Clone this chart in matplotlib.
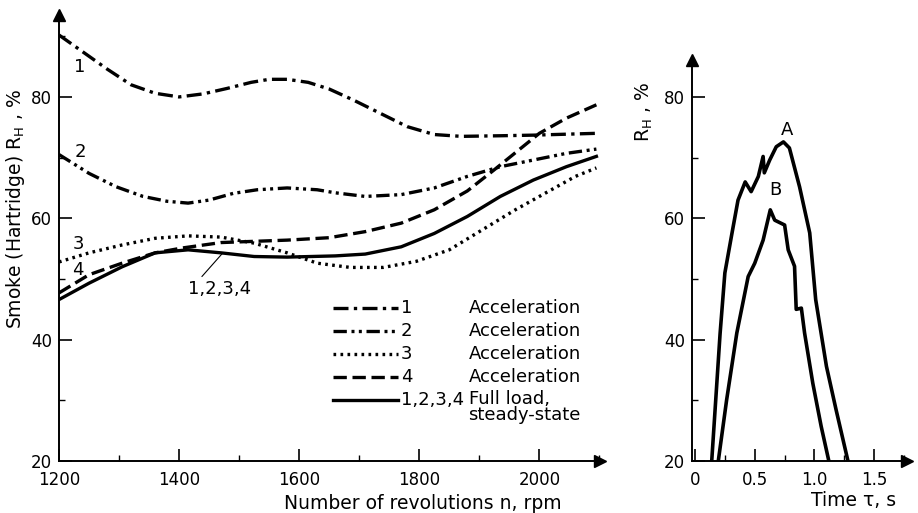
#Smoke emission during acceleration vs steady-state, plus smoke-time traces

#import modules
import matplotlib
matplotlib.use("Agg")
import matplotlib.pyplot as plt
from matplotlib.ticker import MultipleLocator

#Data
#Left chart: smoke R_H (%) vs engine speed (rpm)
rpm1 = [1200, 1240, 1280, 1320, 1360, 1400, 1440, 1480, 1520, 1550, 1580, 1615, 1650, 1690, 1735, 1780, 1825, 1870, 1935, 1990, 2095]
smoke1 = [90.2, 87.4, 84.6, 82.0, 80.6, 80.0, 80.5, 81.4, 82.4, 82.9, 82.9, 82.4, 81.3, 79.5, 77.3, 75.1, 73.8, 73.5, 73.6, 73.7, 74.0]

rpm2 = [1200, 1250, 1295, 1340, 1380, 1415, 1450, 1490, 1530, 1580, 1630, 1660, 1710, 1770, 1825, 1880, 1935, 1990, 2045, 2095]
smoke2 = [70.5, 67.4, 65.2, 63.6, 62.8, 62.5, 63.0, 64.1, 64.7, 65.0, 64.7, 64.2, 63.6, 63.9, 65.0, 66.9, 68.5, 69.6, 70.7, 71.4]

rpm3 = [1200, 1250, 1305, 1360, 1415, 1470, 1525, 1580, 1630, 1685, 1740, 1795, 1850, 1905, 1960, 2020, 2060, 2095]
smoke3 = [52.8, 54.3, 55.6, 56.7, 57.1, 56.9, 55.9, 54.3, 52.6, 51.9, 51.9, 52.9, 54.8, 58.1, 61.4, 64.7, 66.9, 68.3]

rpm4 = [1200, 1250, 1305, 1360, 1405, 1470, 1525, 1580, 1650, 1710, 1770, 1825, 1880, 1925, 1960, 2000, 2045, 2095]
smoke4 = [47.7, 50.7, 52.6, 54.3, 55.1, 56.0, 56.2, 56.4, 56.8, 57.8, 59.2, 61.4, 64.5, 68.0, 70.8, 74.0, 76.5, 78.7]

rpm_ss = [1200, 1250, 1305, 1360, 1415, 1470, 1525, 1580, 1660, 1710, 1770, 1825, 1880, 1935, 1990, 2045, 2095]
smoke_ss = [46.6, 49.3, 52.0, 54.3, 54.8, 54.3, 53.7, 53.6, 53.8, 54.1, 55.3, 57.5, 60.3, 63.6, 66.3, 68.5, 70.2]

legend_nums = ["1", "2", "3", "4", "1,2,3,4"]
legend_desc = ["Acceleration", "Acceleration", "Acceleration", "Acceleration", "Full load,\nsteady-state"]

#Right chart: smoke R_H (%) vs time (s)
timeA = [0.14, 0.21, 0.25, 0.31, 0.36, 0.42, 0.47, 0.53, 0.57, 0.58, 0.625, 0.68, 0.74, 0.79, 0.875, 0.96, 1.01, 1.10, 1.18, 1.28]
smokeA = [20, 41, 51, 57.6, 63, 66, 64.4, 66.9, 70.2, 67.5, 69.6, 71.8, 72.6, 71.6, 65.2, 57.6, 46.6, 35.6, 28.5, 20]

timeB = [0.195, 0.265, 0.35, 0.445, 0.5, 0.57, 0.63, 0.667, 0.75, 0.78, 0.833, 0.847, 0.89, 0.917, 0.986, 1.056, 1.12]
smokeB = [20, 30.1, 41.1, 50.4, 52.6, 56.4, 61.4, 59.7, 58.9, 54.8, 52.1, 45, 45.2, 41.1, 32.8, 25.7, 20]

plt.rcParams["font.family"] = "DejaVu Sans"
plt.rcParams["font.size"] = 13

W, H = 918, 513
fig = plt.figure(figsize=(W / 100, H / 100), dpi=100)

#axes placed in pixel terms (left, right, bottom, top)
def add_axes(l, r, b, t):
    return fig.add_axes([l / W, 1 - b / H, (r - l) / W, (b - t) / H])

ax = add_axes(59, 600, 461, 15)
ax2 = add_axes(692, 907, 461, 60)

def style_axis(a):
    for s in ["top", "right"]:
        a.spines[s].set_visible(False)
    for s in ["left", "bottom"]:
        a.spines[s].set_linewidth(1.4)
    a.tick_params(which="major", direction="in", length=9, width=1.2, labelsize=12)
    a.tick_params(axis="x", which="major", pad=7)
    a.tick_params(axis="y", which="major", pad=5)
    a.tick_params(which="minor", direction="in", length=4.5, width=1.0)
    #arrow heads at the axis ends
    a.plot(1, 0, ">k", markersize=9, transform=a.transAxes, clip_on=False)
    a.plot(0, 1, "^k", markersize=9, transform=a.transAxes, clip_on=False)

style_axis(ax)
style_axis(ax2)

lw = 2.4
styles = [[4.5, 1.6, 1.0, 1.6], [4.0, 1.4, 0.9, 1.3, 0.9, 1.4], [0.8, 1.3], [4.0, 1.7], None]
series = [(rpm1, smoke1), (rpm2, smoke2), (rpm3, smoke3), (rpm4, smoke4), (rpm_ss, smoke_ss)]
for (xs, ys), d in zip(series, styles):
    if d is None:
        ax.plot(xs, ys, color="black", lw=lw)
    else:
        ax.plot(xs, ys, color="black", lw=lw, dashes=d)

ax.set_xlim(1200, 2101)
ax.set_ylim(20, 93.5)
ax.xaxis.set_major_locator(MultipleLocator(200))
ax.xaxis.set_minor_locator(MultipleLocator(100))
ax.yaxis.set_major_locator(MultipleLocator(20))
ax.yaxis.set_minor_locator(MultipleLocator(10))

#curve numbers
ax.text(1235, 84.9, "1", ha="center", va="center")
ax.text(1235, 70.9, "2", ha="center", va="center")
ax.text(1232, 55.8, "3", ha="center", va="center")
ax.text(1232, 51.5, "4", ha="center", va="center")
ax.annotate("", xy=(1472, 54.2), xytext=(1438, 50.4),
            arrowprops=dict(arrowstyle="-", lw=0.8, shrinkA=0, shrinkB=0))
ax.text(1468, 48.4, "1,2,3,4", ha="center", va="center")

#legend drawn as keys with number and description
legend_y = [45.2, 41.4, 37.6, 33.8, 30.0]
for i in range(len(legend_nums)):
    y = legend_y[i]
    if styles[i] is None:
        ax.plot([1657, 1765], [y, y], color="black", lw=lw)
    else:
        ax.plot([1657, 1765], [y, y], color="black", lw=lw, dashes=styles[i])
    ax.text(1769, y, legend_nums[i], ha="left", va="center")
    if "\n" in legend_desc[i]:
        ax.text(1882, y + 1.7, legend_desc[i], ha="left", va="top", linespacing=0.85)
    else:
        ax.text(1882, y, legend_desc[i], ha="left", va="center")

ax.set_xlabel("Number of revolutions n, rpm", fontsize=13.5)
ax.xaxis.set_label_coords(0.672, -0.075)
ax.set_ylabel("Smoke (Hartridge) R$_\\mathrm{H}$ , %", fontsize=13.5)
ax.yaxis.set_label_coords(-0.06, 0.565)

#right chart
ax2.plot(timeA, smokeA, color="black", lw=2.6)
ax2.plot(timeB, smokeB, color="black", lw=2.6)
ax2.set_xlim(-0.025, 1.774)
ax2.set_ylim(20, 86.1)
ax2.xaxis.set_minor_locator(MultipleLocator(0.25))
ax2.yaxis.set_major_locator(MultipleLocator(20))
ax2.yaxis.set_minor_locator(MultipleLocator(10))
ax2.set_xticks([0, 0.5, 1.0, 1.5])
ax2.set_xticklabels(["0", "0.5", "1.0", "1.5"])
ax2.text(0.77, 74.6, "A", ha="center", va="center")
ax2.text(0.67, 64.6, "B", ha="center", va="center")
ax2.set_xlabel("Time \u03c4, s", fontsize=13.5)
ax2.xaxis.set_label_coords(0.753, -0.075)
ax2.set_ylabel("R$_\\mathrm{H}$ , %", fontsize=13.5)
ax2.yaxis.set_label_coords(-0.17, 0.87)

fig.savefig("out.png", dpi=100)
